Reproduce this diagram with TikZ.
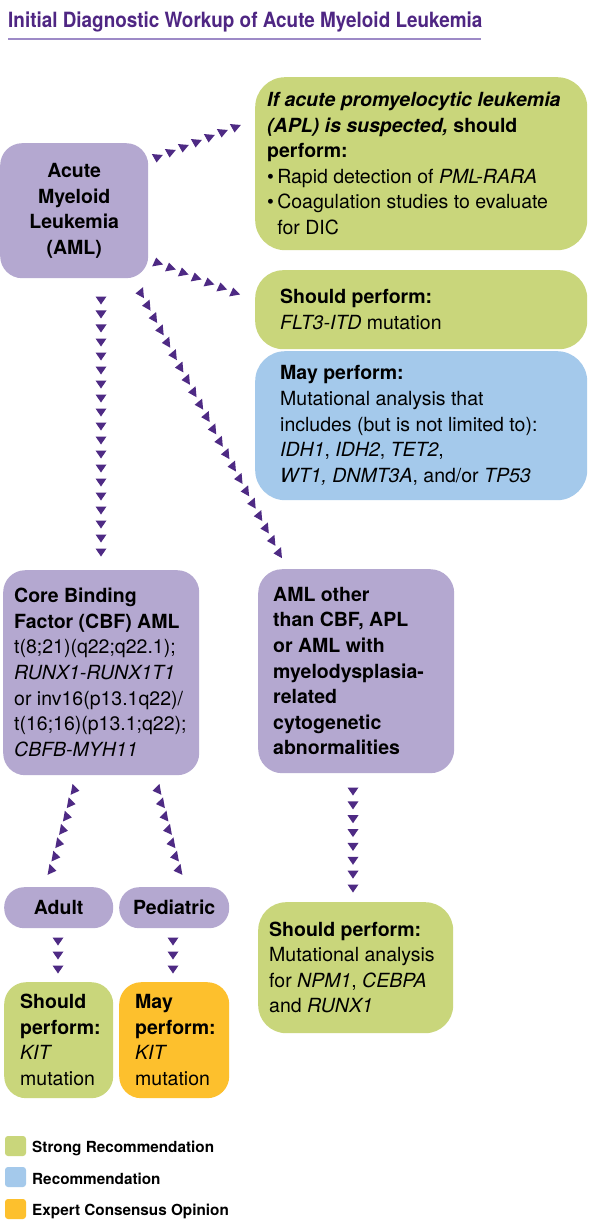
\documentclass[tikz,border=0pt]{standalone}
\usepackage{fontspec}
\setmainfont{TeX Gyre Heros}
\usetikzlibrary{calc}
\definecolor{pur}{HTML}{B4A8D0}
\definecolor{grn}{HTML}{C9D67B}
\definecolor{blu}{HTML}{A4C9EB}
\definecolor{org}{HTML}{FDC02D}
\definecolor{dkp}{HTML}{4E2A84}
\definecolor{ttl}{HTML}{4F2683}
\definecolor{rulec}{HTML}{9D8AC7}
\tikzset{
  box/.style={rounded corners=22pt, inner sep=0pt, draw=none, anchor=north west},
  txt/.style={inner sep=0pt, align=left, anchor=west, font=\fontsize{19.5pt}{25.6pt}\selectfont},
  ctxt/.style={inner sep=0pt, align=center, font=\fontsize{19.5pt}{25.6pt}\selectfont\bfseries},
  legtxt/.style={inner sep=0pt, anchor=base west, font=\fontsize{15.3pt}{18pt}\selectfont\bfseries},
  legbox/.style={rounded corners=3pt, draw=none},
  chainfill/.style={fill=dkp},
}
\newcommand\trichain[4]{%
  \foreach \k in {0,...,#3}{%
    \fill[chainfill, shift={($(#1)!\k/#3!(#2)$)}, rotate=#4]
      (4.5pt,0pt) -- (-3.5pt,5.5pt) -- (-3.5pt,-5.5pt) -- cycle;
  }%
}
\begin{document}
\begin{tikzpicture}[x=1pt,y=-1pt]
\useasboundingbox[fill=white] (0,0) rectangle (598,1228);
% title
\node[anchor=base west, inner sep=0pt, font=\fontsize{21pt}{25pt}\selectfont\bfseries, text=ttl] (title) at (8,28) {\scalebox{0.9}[1]{Initial Diagnostic Workup of Acute Myeloid Leukemia}};
\draw[rulec, line width=1.5pt] (8,39) coordinate (rl) -- (481,39) coordinate (rr);
% boxes
\node[box, fill=pur, minimum width=148pt, minimum height=135pt] (aml) at (0,143) {};
\node[ctxt] (amlt) at (aml.center) {Acute\\Myeloid\\Leukemia\\(AML)};

\node[box, fill=grn, rounded corners=30pt, minimum width=332pt, minimum height=173pt] (apl) at (255,77) {};
\node[txt] (aplt) at (267,163.5) {\textbf{\textit{If acute promyelocytic leukemia}}\\
\textbf{\textit{(APL) is suspected,} should}\\
\textbf{perform:}\\
\textbullet\,Rapid detection of \textit{PML-RARA}\\
\textbullet\,Coagulation studies to evaluate\\
\phantom{\textbullet\,}for DIC};

\node[box, fill=grn, rounded corners=28pt, minimum width=332pt, minimum height=79pt] (flt) at (255,270) {};
\node[txt] (fltt) at (280,309.5) {\textbf{Should perform:}\\\textit{FLT3-ITD} mutation};

\node[box, fill=blu, rounded corners=30pt, minimum width=332pt, minimum height=149pt] (may) at (255,351) {};
\node[txt] (mayt) at (280,425.5) {\textbf{May perform:}\\
Mutational analysis that\\
includes (but is not limited to):\\
\textit{IDH1}, \textit{IDH2}, \textit{TET2},\\
\textit{WT1, DNMT3A}, and/or \textit{TP53}};

\node[box, fill=pur, minimum width=196pt, minimum height=205pt] (cbf) at (3,570) {};
\node[txt] (cbft) at (14,672.5) {\textbf{Core Binding}\\
\textbf{Factor (CBF) AML}\\
t(8;21)(q22;q22.1);\\
\textit{RUNX1-RUNX1T1}\\
or inv16(p13.1q22)/\\
t(16;16)(p13.1;q22);\\
\textit{CBFB-MYH11}};

\node[box, fill=pur, rounded corners=24pt, minimum width=196pt, minimum height=204pt] (oth) at (258,569) {};
\node[txt, font=\fontsize{19.5pt}{25.6pt}\selectfont\bfseries] (otht) at (273,671) {AML other\\than CBF, APL\\or AML with\\myelodysplasia-\\related\\cytogenetic\\abnormalities};

\node[box, fill=grn, rounded corners=28pt, minimum width=195pt, minimum height=131pt] (npm) at (258,902) {};
\node[txt] (npmt) at (269,967.5) {\textbf{Should perform:}\\
Mutational analysis\\
for \textit{NPM1}, \textit{CEBPA}\\
and \textit{RUNX1}};

\node[box, fill=pur, rounded corners=20pt, minimum width=109pt, minimum height=41pt] (adu) at (4,887) {};
\node[ctxt] (adut) at (adu.center) {Adult};
\node[box, fill=pur, rounded corners=20pt, minimum width=110pt, minimum height=41pt] (ped) at (119,887) {};
\node[ctxt] (pedt) at (ped.center) {Pediatric};

\node[box, fill=grn, minimum width=109pt, minimum height=116pt] (kit) at (4,982) {};
\node[txt] (kitt) at (20,1040) {\textbf{Should}\\\textbf{perform:}\\\textit{KIT}\\mutation};
\node[box, fill=org, minimum width=110pt, minimum height=116pt] (mkit) at (119,982) {};
\node[txt] (mkitt) at (135,1040) {\textbf{May}\\\textbf{perform:}\\\textit{KIT}\\mutation};

% chains
\coordinate (a1) at (157,158); \coordinate (b1) at (235,128);
\coordinate (a2) at (157,262); \coordinate (b2) at (234,292);
\coordinate (a3) at (101,300); \coordinate (b3) at (101,552);
\coordinate (a4) at (140,293); \coordinate (b4) at (278,553);
\coordinate (a5) at (75,790);  \coordinate (b5) at (52,870);
\coordinate (a6) at (157,790); \coordinate (b6) at (178,870);
\coordinate (a7) at (58,941);  \coordinate (b7) at (58,969);
\coordinate (a8) at (173,941); \coordinate (b8) at (173,969);
\coordinate (a9) at (353,791); \coordinate (b9) at (353,888);
\trichain{a1}{b1}{6}{-95}
\trichain{a2}{b2}{6}{100}
\trichain{a3}{b3}{18}{-90}
\trichain{a4}{b4}{21}{185}
\trichain{a5}{b5}{6}{-10}
\trichain{a6}{b6}{6}{190}
\trichain{a7}{b7}{2}{-90}
\trichain{a8}{b8}{2}{-90}
\trichain{a9}{b9}{7}{-90}

% legend
\fill[grn, legbox] (5,1136) rectangle (26,1156);
\node[legtxt] (l1) at (32,1152) {Strong Recommendation};
\fill[blu, legbox] (5,1167) rectangle (26,1187);
\node[legtxt] (l2) at (32,1184) {Recommendation};
\fill[org, legbox] (5,1199) rectangle (26,1219);
\node[legtxt] (l3) at (32,1215) {Expert Consensus Opinion};
\end{tikzpicture}
\end{document}
